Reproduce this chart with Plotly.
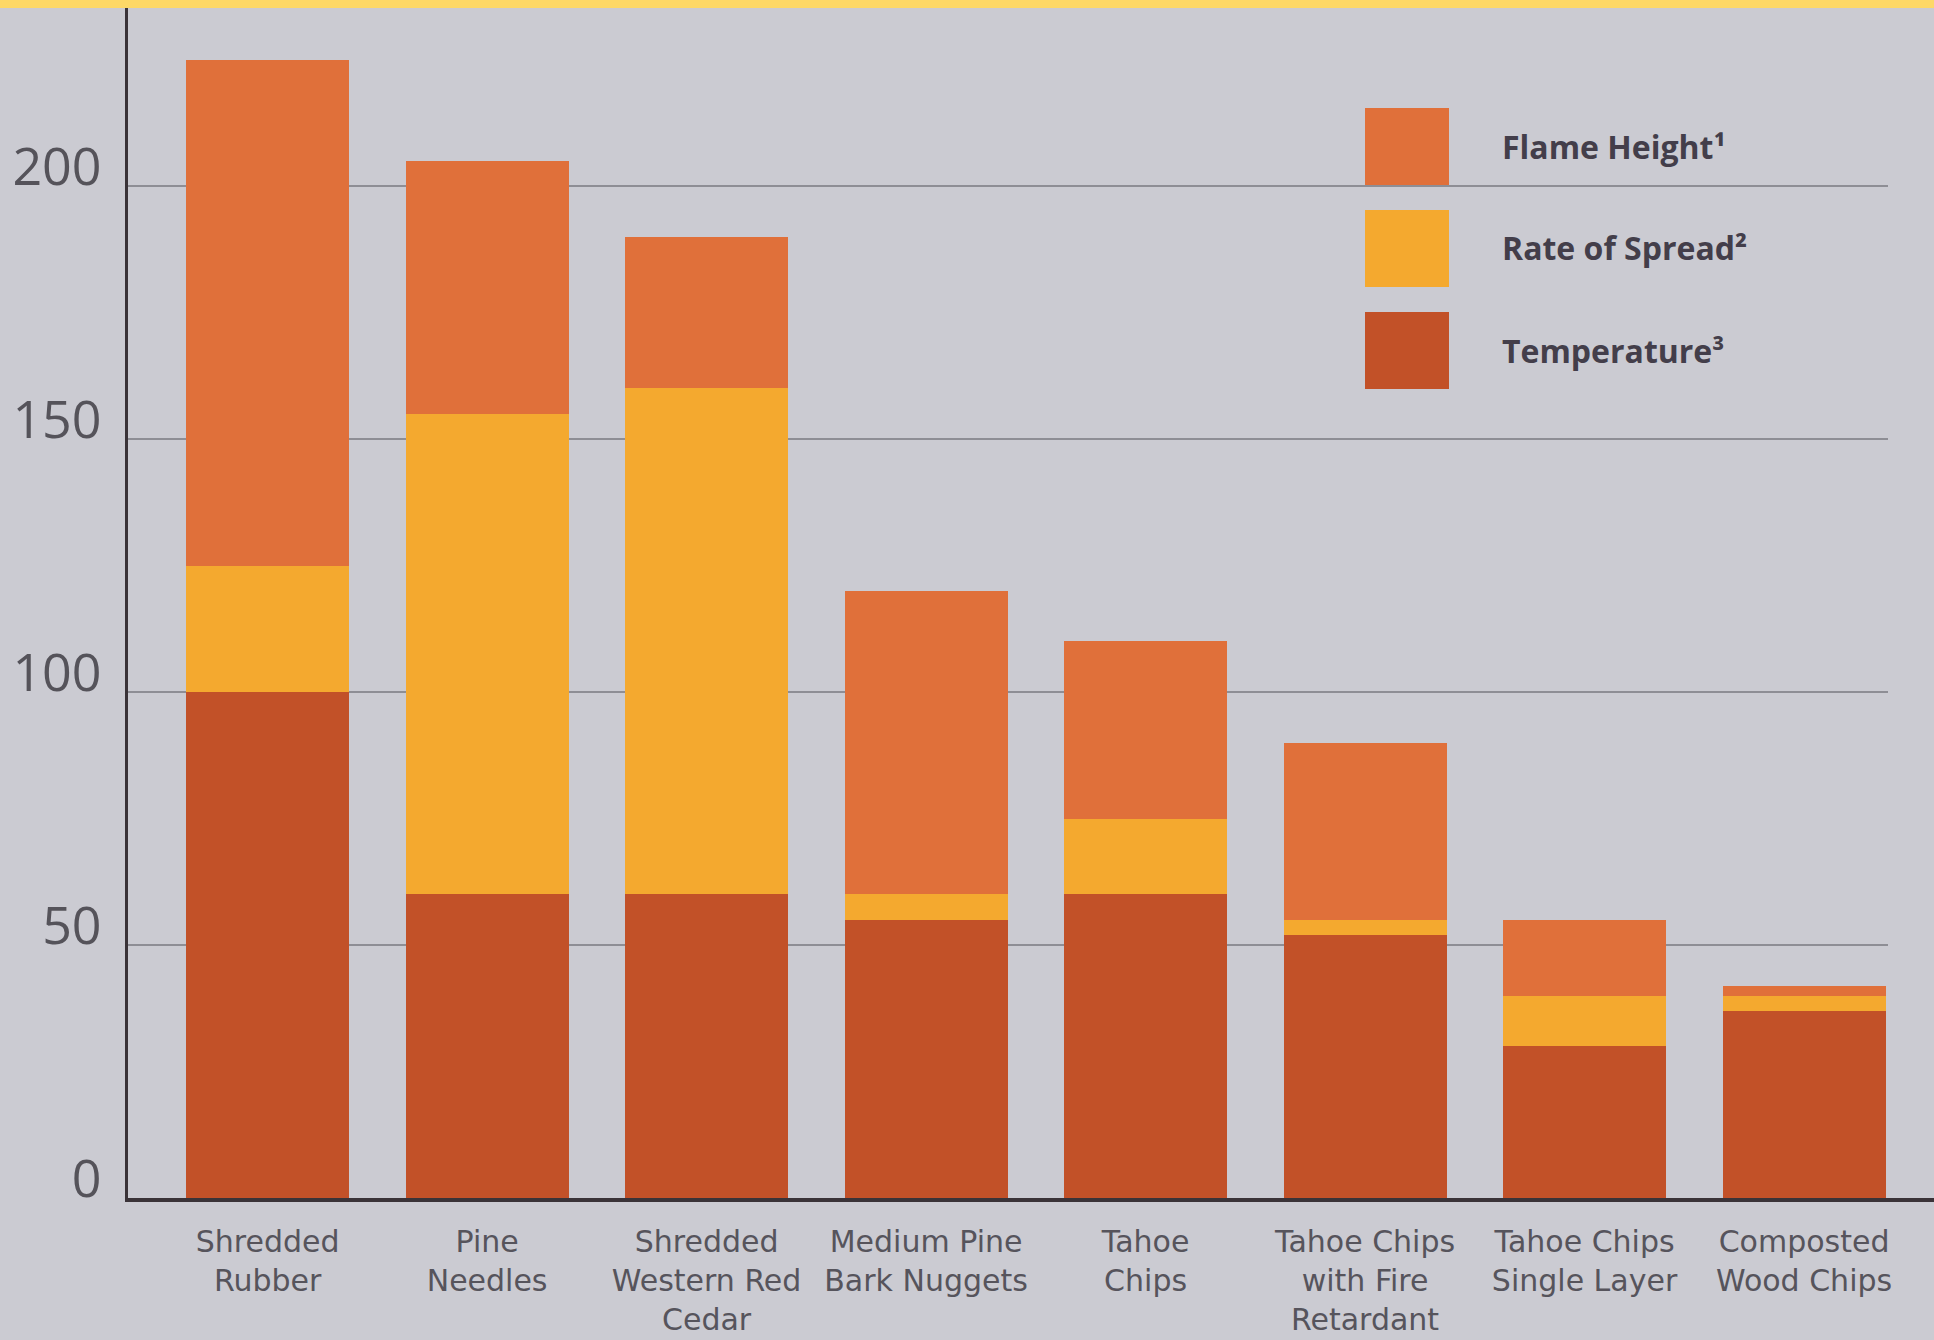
import plotly.graph_objects as go

categories = ["Shredded Rubber", "Pine Needles", "Shredded Western Red Cedar",
              "Medium Pine Bark Nuggets", "Tahoe Chips", "Tahoe Chips with Fire Retardant",
              "Tahoe Chips Single Layer", "Composted Wood Chips"]
tick_labels = ["Shredded<br>Rubber", "Pine<br>Needles", "Shredded<br>Western Red<br>Cedar",
               "Medium Pine<br>Bark Nuggets", "Tahoe<br>Chips", "Tahoe Chips<br>with Fire<br>Retardant",
               "Tahoe Chips<br>Single Layer", "Composted<br>Wood Chips"]
temperature = [100, 60, 60, 55, 60, 52, 30, 37]
rate_of_spread = [25, 95, 100, 5, 15, 3, 10, 3]
flame_height = [100, 50, 30, 60, 35, 35, 15, 2]
y_ticks = [0, 50, 100, 150, 200]

series_names = ["Temperature³", "Rate of Spread²", "Flame Height¹"]
colors = {"Temperature³": "#C25128", "Rate of Spread²": "#F4A92F", "Flame Height¹": "#E0703A"}
series_values = {"Temperature³": temperature, "Rate of Spread²": rate_of_spread,
                 "Flame Height¹": flame_height}

BG = "#CBCBD2"
W, H = 1934, 1340
ML, MT, MB = 128, 8, 142
PW, PH = W - ML, H - MT - MB

fig = go.Figure()
for name in series_names:
    fig.add_trace(go.Bar(x=categories, y=series_values[name], name=name,
                         marker=dict(color=colors[name], line=dict(width=0)),
                         showlegend=False))

def px_x(x):
    return (x - ML) / PW

def px_y(y):
    return 1 - (y - MT) / PH

shapes = []
# horizontal gridlines behind bars
for v in y_ticks[1:]:
    shapes.append(dict(type="line", xref="paper", yref="y", x0=0, x1=px_x(1888), y0=v, y1=v,
                       line=dict(color="#8E8E95", width=2), layer="below"))
# top yellow band
shapes.append(dict(type="rect", xref="paper", yref="paper", x0=-1, x1=2, y0=1, y1=1 + 9 / PH,
                   fillcolor="#FDD867", line=dict(width=0), layer="above"))

# manual legend (top to bottom: Flame, Spread, Temperature)
legend_order = ["Flame Height¹", "Rate of Spread²", "Temperature³"]
annotations = []
for i, name in enumerate(legend_order):
    top = 108 + i * 102
    shapes.append(dict(type="rect", xref="paper", yref="paper",
                       x0=px_x(1365), x1=px_x(1449), y0=px_y(top + 77), y1=px_y(top),
                       fillcolor=colors[name], line=dict(width=0), layer="above"))
    annotations.append(dict(xref="paper", yref="paper", x=px_x(1500), y=px_y(top + 38),
                            text="<b>" + name + "</b>", showarrow=False, xanchor="left",
                            yanchor="middle",
                            font=dict(family="Open Sans", size=32, color="#433E4A")))

fig.update_layout(
    width=W, height=H,
    margin=dict(l=ML, r=0, t=MT, b=MB),
    paper_bgcolor=BG, plot_bgcolor=BG,
    barmode="stack", bargap=0.257,
    shapes=shapes, annotations=annotations,
    xaxis=dict(range=[-0.636, 7.592], tickvals=categories, ticktext=tick_labels,
               showgrid=False, showline=True, linecolor="#3A3338", linewidth=4,
               ticks="", ticklabelstandoff=14,
               tickfont=dict(family="DejaVu Sans", size=30, color="#56545C")),
    yaxis=dict(range=[0, 235.2], tickvals=y_ticks, showgrid=False, zeroline=False,
               showline=True, linecolor="#3A3338", linewidth=3, ticks="",
               ticklabelstandoff=13, ticklabelshift=-19,
               tickfont=dict(family="Open Sans", size=52, color="#55535A")),
    font=dict(family="Open Sans"),
)

fig.write_html("out.html")
